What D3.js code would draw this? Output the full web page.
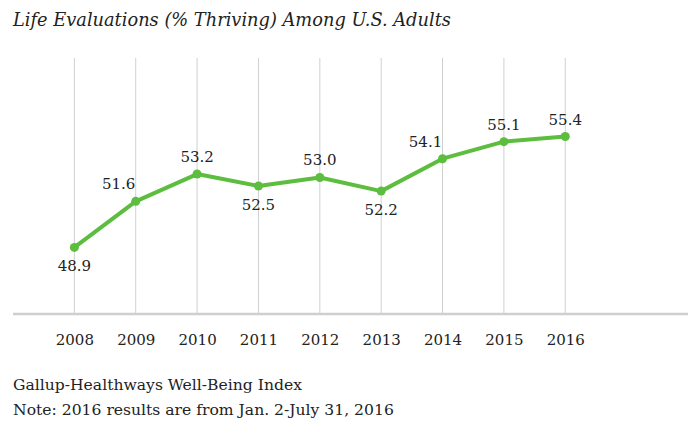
<!DOCTYPE html>
<html>
<head>
<meta charset="utf-8">
<script src="https://cdn.jsdelivr.net/npm/d3@7"></script>
<style>
  body { margin: 0; background: #fff; }
  svg text { font-family: "DejaVu Serif", Georgia, serif; fill: #222; }
</style>
</head>
<body>
<div id="chart"></div>
<script>
  var years = [2008, 2009, 2010, 2011, 2012, 2013, 2014, 2015, 2016],
      values = [48.9, 51.6, 53.2, 52.5, 53.0, 52.2, 54.1, 55.1, 55.4],
      title = "Life Evaluations (% Thriving) Among U.S. Adults",
      notes = ["Gallup-Healthways Well-Being Index",
               "Note: 2016 results are from Jan. 2-July 31, 2016"];

  var width = 700, height = 431,
      green = "#5cbd3e";

  // where each value label sits relative to its point
  var placement = { 2008: "below", 2009: "left", 2011: "below", 2013: "below", 2014: "left" };

  var svg = d3.select("#chart").append("svg")
      .attr("width", width)
      .attr("height", height);

  var x = d3.scaleLinear().domain([2007, 2018]).range([13, 688]),
      y = d3.scaleLinear().domain([45, 60]).range([314, 58]);

  // vertical gridlines
  svg.selectAll(".grid")
      .data(years)
      .enter().append("line")
        .attr("class", "grid")
        .attr("x1", function(d) { return x(d); })
        .attr("x2", function(d) { return x(d); })
        .attr("y1", y(60))
        .attr("y2", y(45))
        .style("stroke", "#d0d0d0")
        .style("stroke-width", 1);

  // baseline
  svg.append("line")
      .attr("x1", x(2007)).attr("x2", x(2018))
      .attr("y1", y(45)).attr("y2", y(45))
      .style("stroke", "#cfcfcf")
      .style("stroke-width", 2.5);

  var xAxis = d3.axisBottom(x).tickValues(years).tickFormat(d3.format("d")).tickSize(0).tickPadding(20);
  var gx = svg.append("g")
      .attr("transform", "translate(0," + y(45) + ")")
      .call(xAxis);
  gx.select(".domain").remove();
  gx.selectAll("text").style("font-size", "15px").style("font-family", null);

  var pts = years.map(function(d, i) { return { year: d, value: values[i] }; });

  var line = d3.line()
      .x(function(d) { return x(d.year); })
      .y(function(d) { return y(d.value); });

  svg.append("path")
      .datum(pts)
      .attr("d", line)
      .style("fill", "none")
      .style("stroke", green)
      .style("stroke-width", 4)
      .style("stroke-linejoin", "round");

  svg.selectAll(".dot")
      .data(pts)
      .enter().append("circle")
        .attr("class", "dot")
        .attr("cx", function(d) { return x(d.year); })
        .attr("cy", function(d) { return y(d.value); })
        .attr("r", 4.5)
        .style("fill", green);

  svg.selectAll(".val")
      .data(pts)
      .enter().append("text")
        .attr("class", "val")
        .text(function(d) { return d3.format(".1f")(d.value); })
        .attr("x", function(d) { return x(d.year) + (placement[d.year] == "left" ? -17 : 0); })
        .attr("y", function(d) { return y(d.value) + (placement[d.year] == "below" ? 24 : -12); })
        .style("text-anchor", "middle")
        .style("font-size", "15px");

  svg.append("text")
      .text(title)
      .attr("x", 13)
      .attr("y", 26)
      .style("font-style", "italic")
      .style("font-size", "17.8px");

  svg.selectAll(".note")
      .data(notes)
      .enter().append("text")
        .attr("class", "note")
        .text(function(d) { return d; })
        .attr("x", 13)
        .attr("y", function(d, i) { return 390 + i * 25; })
        .style("font-size", "15.6px");
</script>
</body>
</html>
